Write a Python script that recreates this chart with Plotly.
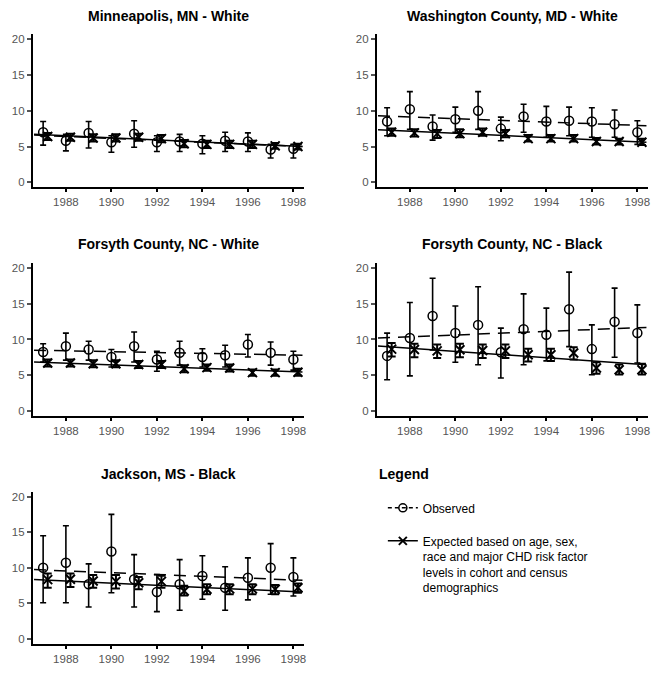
import plotly.graph_objects as go

years = [1987, 1988, 1989, 1990, 1991, 1992, 1993, 1994, 1995, 1996, 1997, 1998]
trend_years = [1986.6, 1998.4]
x_ticks = [1988, 1990, 1992, 1994, 1996, 1998]
y_ticks = [0, 5, 10, 15, 20]

titles = ["Minneapolis, MN - White", "Washington County, MD - White",
          "Forsyth County, NC - White", "Forsyth County, NC - Black",
          "Jackson, MS - Black"]

# Minneapolis, MN - White
mn_obs = [7.0, 5.8, 6.9, 5.6, 6.8, 5.6, 5.7, 5.4, 5.8, 5.7, 4.6, 4.7]
mn_obs_hi = [8.5, 6.7, 8.5, 6.5, 8.6, 6.5, 6.7, 6.5, 7.0, 6.9, 5.3, 5.3]
mn_obs_lo = [5.2, 4.4, 4.8, 4.2, 4.9, 4.3, 4.3, 4.0, 4.3, 4.3, 3.4, 3.4]
mn_exp = [6.4, 6.3, 6.2, 6.2, 6.3, 6.1, 5.4, 5.3, 5.3, 5.3, 5.1, 5.0]
mn_exp_hi = [6.9, 6.8, 6.7, 6.7, 6.8, 6.6, 5.9, 5.8, 5.8, 5.8, 5.5, 5.4]
mn_exp_lo = [5.9, 5.8, 5.7, 5.7, 5.8, 5.6, 4.9, 4.8, 4.8, 4.8, 4.7, 4.6]
mn_obs_trend = [6.6, 5.0]
mn_exp_trend = [6.7, 5.0]

# Washington County, MD - White
wa_obs = [8.5, 10.2, 7.8, 8.8, 10.0, 7.5, 9.2, 8.5, 8.6, 8.5, 8.1, 7.0]
wa_obs_hi = [10.4, 12.65, 9.4, 10.5, 12.65, 9.1, 10.9, 10.6, 10.5, 10.4, 10.1, 8.6]
wa_obs_lo = [6.5, 7.4, 5.9, 7.0, 7.4, 5.8, 7.0, 6.3, 6.5, 6.3, 6.3, 5.3]
wa_exp = [7.0, 6.9, 6.8, 6.8, 7.0, 6.8, 6.1, 6.1, 6.1, 5.7, 5.7, 5.6]
wa_exp_hi = [7.5, 7.4, 7.3, 7.4, 7.5, 7.3, 6.6, 6.6, 6.6, 6.2, 6.1, 6.1]
wa_exp_lo = [6.5, 6.4, 6.2, 6.3, 6.5, 6.3, 5.7, 5.7, 5.7, 5.3, 5.3, 5.2]
wa_obs_trend = [9.3, 7.9]
wa_exp_trend = [7.35, 5.6]

# Forsyth County, NC - White
fw_obs = [8.25, 9.05, 8.6, 7.55, 9.05, 7.2, 8.15, 7.55, 7.8, 9.3, 8.15, 7.2]
fw_obs_hi = [9.4, 10.9, 9.75, 8.6, 11.05, 8.35, 9.75, 8.7, 9.2, 10.7, 9.65, 8.35]
fw_obs_lo = [6.85, 7.1, 7.1, 6.15, 6.85, 5.55, 6.4, 6.15, 6.15, 7.55, 6.4, 5.7]
fw_exp = [6.7, 6.7, 6.6, 6.6, 6.5, 6.5, 5.9, 6.05, 6.0, 5.35, 5.35, 5.4]
fw_exp_hi = [7.2, 7.2, 7.1, 7.1, 7.0, 7.0, 6.4, 6.5, 6.5, 5.8, 5.8, 5.9]
fw_exp_lo = [6.2, 6.2, 6.1, 6.1, 6.0, 6.0, 5.4, 5.6, 5.5, 4.9, 4.9, 4.9]
fw_obs_trend = [8.5, 7.8]
fw_exp_trend = [6.85, 5.45]

# Forsyth County, NC - Black
fb_obs = [7.7, 10.2, 13.3, 10.9, 12.05, 8.2, 11.45, 10.65, 14.25, 8.65, 12.5, 10.9]
fb_obs_hi = [10.9, 15.2, 18.6, 14.7, 17.4, 11.6, 16.4, 14.4, 19.45, 12.05, 17.2, 14.85]
fb_obs_lo = [4.35, 4.9, 8.55, 6.8, 6.45, 4.6, 6.45, 7.0, 9.0, 5.05, 7.5, 6.7]
fb_exp = [8.65, 8.6, 8.4, 8.55, 8.45, 8.4, 7.85, 7.85, 8.1, 6.0, 5.75, 5.75]
fb_exp_hi = [9.5, 9.4, 9.3, 9.4, 9.3, 9.3, 8.7, 8.7, 8.9, 6.8, 6.5, 6.6]
fb_exp_lo = [7.6, 7.5, 7.4, 7.5, 7.4, 7.4, 6.9, 7.0, 7.2, 5.2, 5.1, 5.1]
fb_obs_trend = [10.2, 11.7]
fb_exp_trend = [9.1, 6.45]

# Jackson, MS - Black
ja_obs = [10.0, 10.7, 7.7, 12.3, 8.4, 6.6, 7.7, 8.85, 7.2, 8.6, 10.0, 8.7]
ja_obs_hi = [14.5, 15.9, 10.55, 17.5, 11.85, 9.05, 11.15, 11.7, 10.15, 11.4, 13.4, 11.4]
ja_obs_lo = [5.1, 5.1, 4.5, 6.5, 4.5, 3.85, 4.05, 5.6, 4.05, 5.5, 6.3, 6.05]
ja_exp = [8.35, 8.4, 8.15, 8.1, 7.9, 8.1, 6.75, 7.0, 7.05, 7.05, 7.0, 7.2]
ja_exp_hi = [9.2, 9.2, 9.0, 9.0, 8.7, 8.9, 7.5, 7.7, 7.7, 7.7, 7.6, 7.8]
ja_exp_lo = [7.2, 7.3, 7.2, 7.1, 7.0, 7.2, 6.1, 6.3, 6.3, 6.3, 6.3, 6.5]
ja_obs_trend = [9.75, 8.25]
ja_exp_trend = [8.35, 6.6]

panels = [
    (mn_obs, mn_obs_hi, mn_obs_lo, mn_exp, mn_exp_hi, mn_exp_lo, mn_obs_trend, mn_exp_trend),
    (wa_obs, wa_obs_hi, wa_obs_lo, wa_exp, wa_exp_hi, wa_exp_lo, wa_obs_trend, wa_exp_trend),
    (fw_obs, fw_obs_hi, fw_obs_lo, fw_exp, fw_exp_hi, fw_exp_lo, fw_obs_trend, fw_exp_trend),
    (fb_obs, fb_obs_hi, fb_obs_lo, fb_exp, fb_exp_hi, fb_exp_lo, fb_obs_trend, fb_exp_trend),
    (ja_obs, ja_obs_hi, ja_obs_lo, ja_exp, ja_exp_hi, ja_exp_lo, ja_obs_trend, ja_exp_trend),
]

W, H = 667, 676
EXP_OFFSET = 0.2
FONT = "Liberation Sans, Arial, sans-serif"

# pixel boxes of the plot areas (left, right, top, bottom)
col_x = [(33, 305), (378, 650)]
row_y = [(33, 187), (263, 416), (492, 645)]
title_y = [15, 244, 474]
cells = [(0, 0), (0, 1), (1, 0), (1, 1), (2, 0)]

fig = go.Figure()
layout = dict(
    width=W, height=H, margin=dict(l=0, r=0, t=0, b=0),
    paper_bgcolor="white", plot_bgcolor="white", showlegend=True,
    font=dict(family=FONT, color="black"),
)
annotations = []

for i, (cell, data) in enumerate(zip(cells, panels)):
    r, c = cell
    obs, obs_hi, obs_lo, exp, exp_hi, exp_lo, obs_tr, exp_tr = data
    xa = "x" if i == 0 else f"x{i+1}"
    ya = "y" if i == 0 else f"y{i+1}"
    xk = "xaxis" if i == 0 else f"xaxis{i+1}"
    yk = "yaxis" if i == 0 else f"yaxis{i+1}"
    x0, x1 = col_x[c]
    y0, y1 = row_y[r]
    layout[xk] = dict(
        domain=[x0 / W, x1 / W], anchor=ya, range=[1986.55, 1998.47],
        tickvals=x_ticks, ticks="outside", ticklen=3, tickwidth=1.5, tickcolor="black",
        showline=True, linecolor="black", linewidth=2, showgrid=False, zeroline=False,
        tickfont=dict(size=11.5, color="#555555", family=FONT),
    )
    layout[yk] = dict(
        domain=[1 - y1 / H, 1 - y0 / H], anchor=xa, range=[-0.7, 20.7],
        tickvals=y_ticks, ticks="outside", ticklen=4, tickwidth=1.5, tickcolor="#555555",
        showline=True, linecolor="black", linewidth=2, showgrid=False, zeroline=False,
        tickfont=dict(size=11.5, color="#555555", family=FONT),
    )
    x_exp = [y + EXP_OFFSET for y in years]
    # trend lines
    fig.add_trace(go.Scatter(
        x=trend_years, y=obs_tr, mode="lines", xaxis=xa, yaxis=ya,
        line=dict(color="black", width=1.5, dash="12px,8px"), showlegend=False, hoverinfo="skip"))
    fig.add_trace(go.Scatter(
        x=trend_years, y=exp_tr, mode="lines", xaxis=xa, yaxis=ya,
        line=dict(color="black", width=1.5), showlegend=False, hoverinfo="skip"))
    # observed
    fig.add_trace(go.Scatter(
        x=years, y=obs, mode="markers", xaxis=xa, yaxis=ya,
        marker=dict(symbol="circle-open", size=9, color="black", line=dict(width=1.5)),
        error_y=dict(type="data", symmetric=False,
                     array=[h - v for h, v in zip(obs_hi, obs)],
                     arrayminus=[v - l for v, l in zip(obs, obs_lo)],
                     color="black", thickness=1.6, width=3),
        showlegend=False, name="Observed"))
    # expected
    fig.add_trace(go.Scatter(
        x=x_exp, y=exp, mode="markers", xaxis=xa, yaxis=ya,
        marker=dict(symbol="x-thin-open", size=9, color="black", line=dict(width=2, color="black")),
        error_y=dict(type="data", symmetric=False,
                     array=[h - v for h, v in zip(exp_hi, exp)],
                     arrayminus=[v - l for v, l in zip(exp, exp_lo)],
                     color="black", thickness=2, width=4),
        showlegend=False, name="Expected"))
    annotations.append(dict(
        text=f"<b>{titles[i]}</b>", x=(x0 + x1) / 2 / W, y=1 - title_y[r] / H,
        xref="paper", yref="paper", showarrow=False, xanchor="center", yanchor="middle",
        font=dict(size=14, color="black", family=FONT)))

# legend-only entries
fig.add_trace(go.Scatter(
    x=[None], y=[None], mode="lines+markers", name="Observed", legendgroup="a",
    line=dict(color="black", width=1.5, dash="4px,3px"),
    marker=dict(symbol="circle-open", size=8, color="black", line=dict(width=1.5))))
fig.add_trace(go.Scatter(
    x=[None], y=[None], mode="lines+markers", legendgroup="b",
    name="Expected based on age, sex,<br>race and major CHD risk factor<br>levels in cohort and census<br>demographics",
    line=dict(color="black", width=1.5),
    marker=dict(symbol="x-thin-open", size=8, color="black", line=dict(width=2, color="black"))))

annotations.append(dict(
    text="<b>Legend</b>", x=378 / W, y=1 - 474 / H, xref="paper", yref="paper",
    showarrow=False, xanchor="left", yanchor="middle", font=dict(size=14, color="black", family=FONT)))

layout["annotations"] = annotations
layout["legend"] = dict(
    x=384 / W, y=1 - 494 / H, xanchor="left", yanchor="top", bgcolor="rgba(0,0,0,0)",
    font=dict(size=12, color="black", family=FONT), tracegroupgap=14, valign="top",
    itemwidth=30,
)
fig.update_layout(**layout)
fig.write_html("out.html", config={"displayModeBar": False},
               post_script="document.body.style.margin='0px';")
